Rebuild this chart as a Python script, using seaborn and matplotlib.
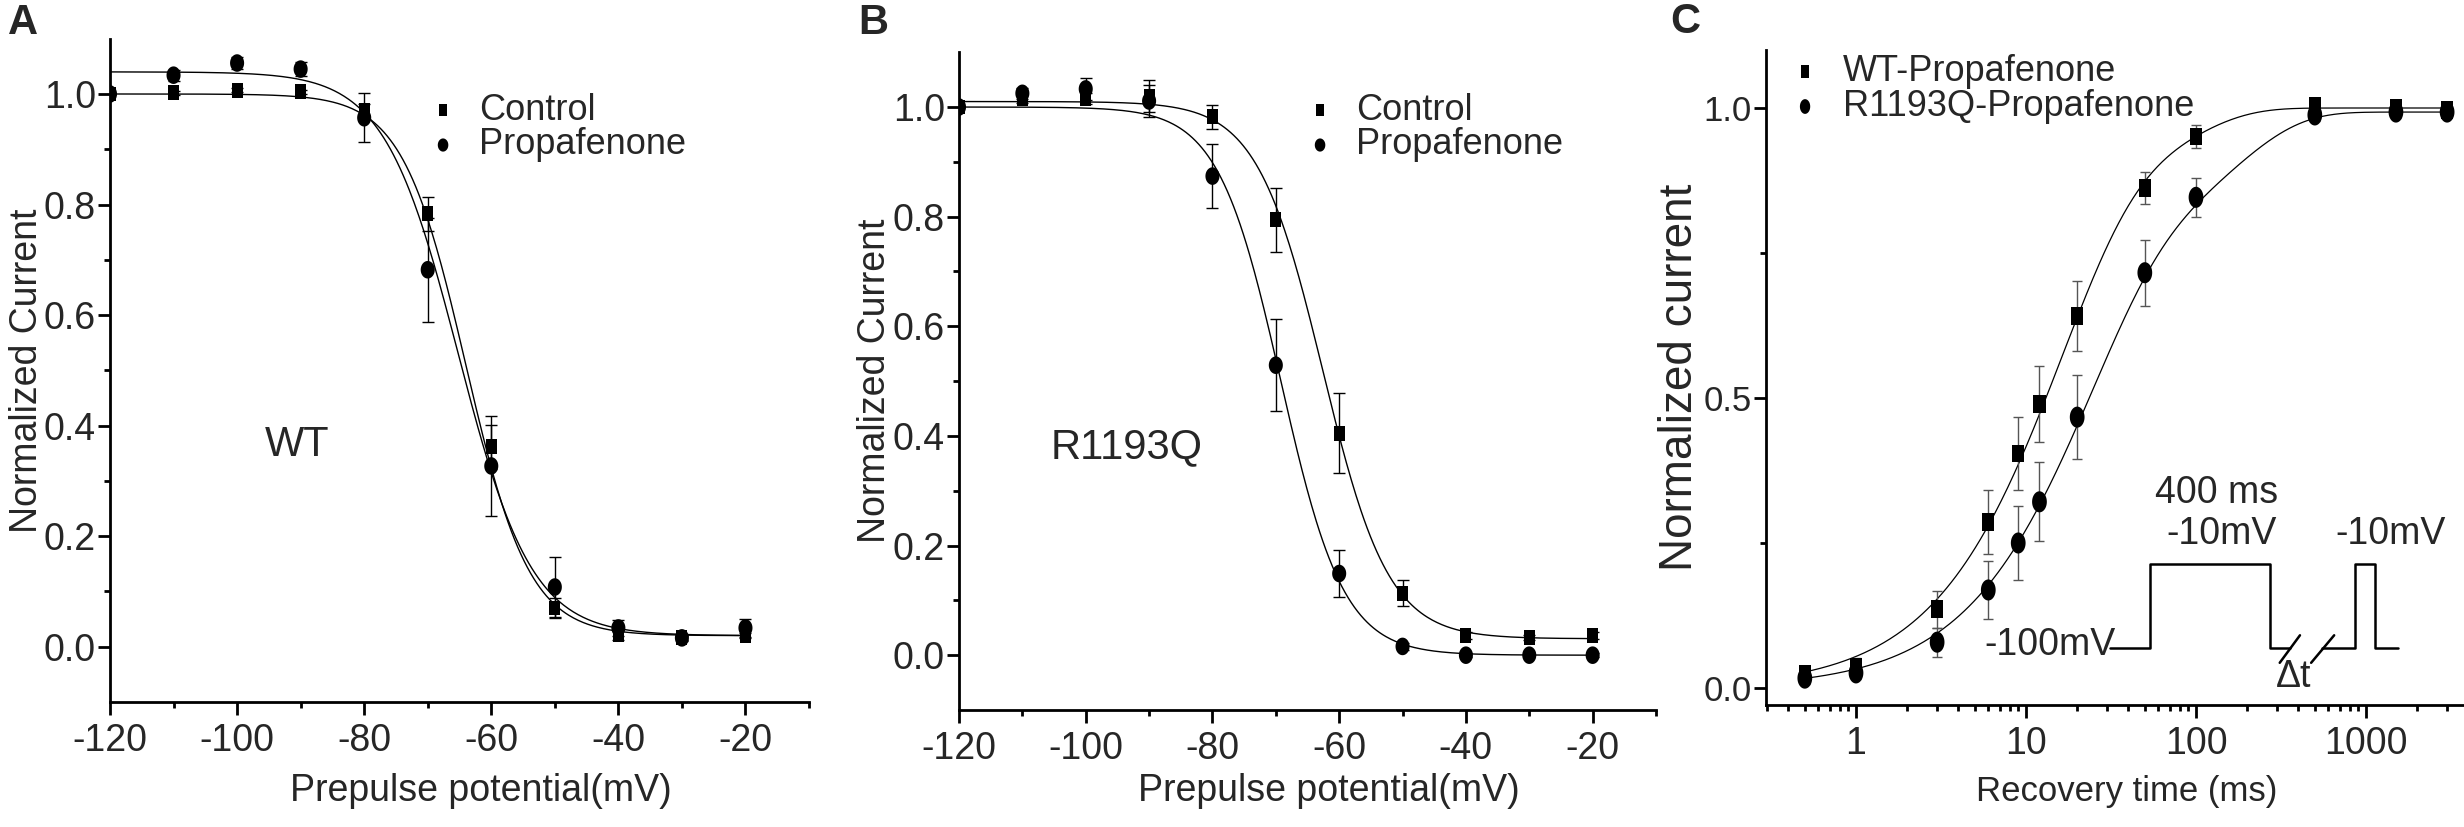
import numpy as np
import pandas as pd
import matplotlib
matplotlib.use("Agg")
import matplotlib.pyplot as plt
import matplotlib.ticker as mticker
from matplotlib.path import Path
import seaborn as sns

# ------------------------------------------------------------------ data
volt = [-120, -110, -100, -90, -80, -70, -60, -50, -40, -30, -20]

wt_ctrl = [1.0, 1.002, 1.007, 1.004, 0.971, 0.783, 0.362, 0.070, 0.022, 0.016, 0.020]
wt_ctrl_err = [0.0, 0.004, 0.004, 0.004, 0.010, 0.031, 0.040, 0.018, 0.010, 0.004, 0.005]
wt_prop = [1.0, 1.034, 1.056, 1.045, 0.957, 0.682, 0.327, 0.108, 0.034, 0.016, 0.034]
wt_prop_err = [0.0, 0.010, 0.010, 0.013, 0.044, 0.094, 0.090, 0.054, 0.015, 0.005, 0.016]

mut_ctrl = [1.0, 1.016, 1.015, 1.020, 0.982, 0.794, 0.405, 0.113, 0.036, 0.032, 0.036]
mut_ctrl_err = [0.0, 0.008, 0.010, 0.030, 0.022, 0.059, 0.073, 0.024, 0.006, 0.005, 0.006]
mut_prop = [1.0, 1.025, 1.033, 1.011, 0.874, 0.529, 0.149, 0.016, 0.0, 0.0, 0.0]
mut_prop_err = [0.0, 0.010, 0.020, 0.030, 0.059, 0.084, 0.042, 0.006, 0.004, 0.004, 0.004]

# Boltzmann fit parameters: top, bottom, V1/2, slope k
wt_ctrl_fit = [1.00, 0.02, -64.0, 5.0]
wt_prop_fit = [1.04, 0.02, -65.2, 5.8]
mut_ctrl_fit = [1.01, 0.03, -62.6, 5.2]
mut_prop_fit = [1.00, 0.00, -69.2, 4.95]

rec_t = [0.5, 1, 3, 6, 9, 12, 20, 50, 100, 500, 1500, 3000]
wt_rec = [0.024, 0.036, 0.136, 0.286, 0.404, 0.490, 0.641, 0.862, 0.951, 1.003, 1.000, 0.997]
wt_rec_err = [0.012, 0.015, 0.032, 0.055, 0.063, 0.066, 0.060, 0.028, 0.020, 0.015, 0.010, 0.006]
mut_rec = [0.017, 0.026, 0.079, 0.169, 0.250, 0.321, 0.467, 0.716, 0.846, 0.988, 0.993, 0.993]
mut_rec_err = [0.010, 0.010, 0.025, 0.050, 0.064, 0.068, 0.072, 0.057, 0.034, 0.010, 0.010, 0.006]

# bi-exponential recovery fit: amplitude, fast fraction, tau fast, tau slow (ms)
wt_rec_fit = [1.000, 0.80, 15.0, 70.0]
mut_rec_fit = [0.993, 0.70, 22.0, 150.0]

xticks_ab = [-120, -100, -80, -60, -40, -20]
yticks_ab = [0.0, 0.2, 0.4, 0.6, 0.8, 1.0]
xticks_c = [1, 10, 100, 1000]
yticks_c = [0.0, 0.5, 1.0]

# ------------------------------------------------------------------ style
sns.set_style("ticks")
plt.rcParams["font.family"] = ["Liberation Sans", "DejaVu Sans"]
plt.rcParams["axes.unicode_minus"] = False

W, H = 2464, 827
fig = plt.figure(figsize=(W / 100, H / 100), dpi=100)


def rect_marker(aspect):
    a = aspect / 2
    return Path([(-a, -0.5), (a, -0.5), (a, 0.5), (-a, 0.5), (-a, -0.5)],
                [Path.MOVETO, Path.LINETO, Path.LINETO, Path.LINETO, Path.CLOSEPOLY])


def ellipse_marker(aspect):
    th = np.linspace(0, 2 * np.pi, 60)
    v = np.column_stack([aspect / 2 * np.cos(th), 0.5 * np.sin(th)])
    return Path(v, closed=True)


def boltz(v, p):
    top, bot, vh, k = p
    return bot + (top - bot) / (1 + np.exp((v - vh) / k))


def recov(t, p):
    amp, a, t1, t2 = p
    return amp * (1 - a * np.exp(-t / t1) - (1 - a) * np.exp(-t / t2))


def style_axes(ax, lw=2.0):
    sns.despine(ax=ax)
    for s in ("left", "bottom"):
        ax.spines[s].set_linewidth(lw)
        ax.spines[s].set_color("black")
    ax.tick_params(which="major", direction="out", length=9, width=2, color="black")
    ax.tick_params(which="minor", direction="out", length=4.5, width=2, color="black")
    ax.tick_params(axis="x", which="both", pad=6)
    ax.tick_params(axis="y", which="both", pad=1)
    ax.set_facecolor("white")


def boltz_panel(ax, ctrl, ctrl_err, prop, prop_err, fc, fp, txt, txt_xy, leg_anchor,
                ylab_x, xlab_y):
    vv = np.linspace(-120, -20, 400)
    sns.lineplot(x=vv, y=boltz(vv, fc), ax=ax, color="black", lw=1.0, zorder=2)
    sns.lineplot(x=vv, y=boltz(vv, fp), ax=ax, color="black", lw=1.0, zorder=2)
    ax.errorbar(volt, ctrl, yerr=ctrl_err, fmt="none", ecolor="black", elinewidth=1.0,
                capsize=4, capthick=1.0, zorder=3)
    ax.errorbar(volt, prop, yerr=prop_err, fmt="none", ecolor="black", elinewidth=1.0,
                capsize=4, capthick=1.0, zorder=3)
    sns.scatterplot(x=volt, y=ctrl, ax=ax, marker=rect_marker(0.75), s=115, color="black",
                    edgecolor="none", linewidth=0, label="Control", zorder=4)
    sns.scatterplot(x=volt, y=prop, ax=ax, marker=ellipse_marker(0.8), s=160, color="black",
                    edgecolor="none", linewidth=0, label="Propafenone", zorder=4)
    ax.set_xlim(-120, -10)
    ax.set_ylim(-0.1, 1.1)
    ax.set_xticks(xticks_ab)
    ax.set_xticklabels([str(v) for v in xticks_ab])
    ax.set_xticks([-110, -90, -70, -50, -30, -10], minor=True)
    ax.set_yticks(yticks_ab)
    ax.set_yticklabels([f"{v:.1f}" for v in yticks_ab])
    ax.set_yticks([0.1, 0.3, 0.5, 0.7, 0.9], minor=True)
    ax.tick_params(labelsize=27)
    style_axes(ax)
    ax.set_xlabel("Prepulse potential(mV)", fontsize=27)
    ax.set_ylabel("Normalized Current", fontsize=27)
    ax.xaxis.set_label_coords(0.53, xlab_y)
    ax.yaxis.set_label_coords(ylab_x, 0.5)
    ax.text(txt_xy[0], txt_xy[1], txt, fontsize=30, ha="center", va="center")
    ax.legend(loc="center left", bbox_to_anchor=leg_anchor, bbox_transform=fig.transFigure,
              frameon=False, fontsize=26, handlelength=1.0, handletextpad=0.5,
              labelspacing=0.0, borderpad=0, borderaxespad=0, markerscale=0.75)


# ------------------------------------------------------------------ panel A
axA = fig.add_axes([110 / W, (H - 702) / H, 699 / W, (702 - 38.7) / H])
boltz_panel(axA, wt_ctrl, wt_ctrl_err, wt_prop, wt_prop_err, wt_ctrl_fit, wt_prop_fit,
            "WT", (-90.6, 0.365), (425 / W, 1 - 127.5 / H), -0.093, -0.107)

# ------------------------------------------------------------------ panel B
axB = fig.add_axes([959 / W, (H - 710) / H, 697 / W, (710 - 52.2) / H])
boltz_panel(axB, mut_ctrl, mut_ctrl_err, mut_prop, mut_prop_err, mut_ctrl_fit, mut_prop_fit,
            "R1193Q", (-93.5, 0.38), (1302 / W, 1 - 127.5 / H), -0.095, -0.096)

# ------------------------------------------------------------------ panel C
axC = fig.add_axes([1766 / W, (H - 705.4) / H, (W - 1766) / W, (705.4 - 50) / H])
tt = np.logspace(np.log10(0.5), np.log10(3000), 400)
sns.lineplot(x=tt, y=recov(tt, wt_rec_fit), ax=axC, color="black", lw=0.9, zorder=2)
sns.lineplot(x=tt, y=recov(tt, mut_rec_fit), ax=axC, color="black", lw=0.9, zorder=2)
axC.errorbar(rec_t, wt_rec, yerr=wt_rec_err, fmt="none", ecolor="#555555", elinewidth=1.0,
             capsize=3.8, capthick=1.0, zorder=3)
axC.errorbar(rec_t, mut_rec, yerr=mut_rec_err, fmt="none", ecolor="#555555", elinewidth=1.0,
             capsize=3.8, capthick=1.0, zorder=3)
sns.scatterplot(x=rec_t, y=wt_rec, ax=axC, marker=rect_marker(0.7), s=160, color="black",
                edgecolor="none", linewidth=0, label="WT-Propafenone", zorder=4)
sns.scatterplot(x=rec_t, y=mut_rec, ax=axC, marker=ellipse_marker(0.7), s=230, color="black",
                edgecolor="none", linewidth=0, label="R1193Q-Propafenone", zorder=4)
axC.set_xscale("log")
axC.set_xlim(10 ** (-90 / 170), 10 ** ((W - 1856) / 170))
axC.set_ylim(-0.03, 1.1)
axC.xaxis.set_major_locator(mticker.FixedLocator(xticks_c))
axC.xaxis.set_major_formatter(mticker.FixedFormatter([str(v) for v in xticks_c]))
axC.xaxis.set_minor_locator(mticker.LogLocator(base=10, subs=np.arange(2, 10), numticks=20))
axC.xaxis.set_minor_formatter(mticker.NullFormatter())
axC.set_yticks(yticks_c)
axC.set_yticklabels([f"{v:.1f}" for v in yticks_c])
axC.set_yticks([0.25, 0.75], minor=True)
style_axes(axC)
axC.tick_params(axis="x", labelsize=27)
axC.tick_params(axis="y", labelsize=25)
axC.set_xlabel("Recovery time (ms)", fontsize=25)
axC.set_ylabel("Normalized current", fontsize=33)
axC.xaxis.set_label_coords(0.517, -0.106)
axC.yaxis.set_label_coords(-0.092, 0.5)
axC.legend(loc="center left", bbox_to_anchor=(1787 / W, 1 - 89 / H), bbox_transform=fig.transFigure,
           frameon=False, fontsize=26, handlelength=1.0, handletextpad=0.55,
           labelspacing=0.0, borderpad=0, borderaxespad=0, markerscale=0.7)

# voltage protocol schematic (axes-fraction drawing)
b, t = 0.0876, 0.2158
tr = axC.transAxes
axC.plot([0.493, 0.550, 0.550, 0.722, 0.722, 0.750], [b, b, t, t, b, b],
         color="black", lw=1.8, transform=tr, clip_on=False)
axC.plot([0.797, 0.844, 0.844, 0.8725, 0.8725, 0.905], [b, b, t, t, b, b],
         color="black", lw=1.8, transform=tr, clip_on=False)
axC.plot([0.736, 0.765], [0.065, 0.107], color="black", lw=1.8, transform=tr)
axC.plot([0.781, 0.814], [0.065, 0.107], color="black", lw=1.8, transform=tr)
axC.text(0.501, 0.092, "-100mV", transform=tr, fontsize=27, ha="right", va="center")
axC.text(0.646, 0.324, "400 ms", transform=tr, fontsize=27, ha="center", va="center")
axC.text(0.652, 0.2615, "-10mV", transform=tr, fontsize=27, ha="center", va="center")
axC.text(0.895, 0.2615, "-10mV", transform=tr, fontsize=27, ha="center", va="center")
axC.text(0.756, 0.043, "\u0394t", transform=tr, fontsize=27, ha="center", va="center")

# panel letters
fig.text(8 / W, 1 - 34 / H, "A", fontsize=30, fontweight="bold", va="baseline")
fig.text(858 / W, 1 - 34 / H, "B", fontsize=30, fontweight="bold", va="baseline")
fig.text(1670 / W, 1 - 33 / H, "C", fontsize=30, fontweight="bold", va="baseline")

fig.savefig("out.png", dpi=100, facecolor="white")
